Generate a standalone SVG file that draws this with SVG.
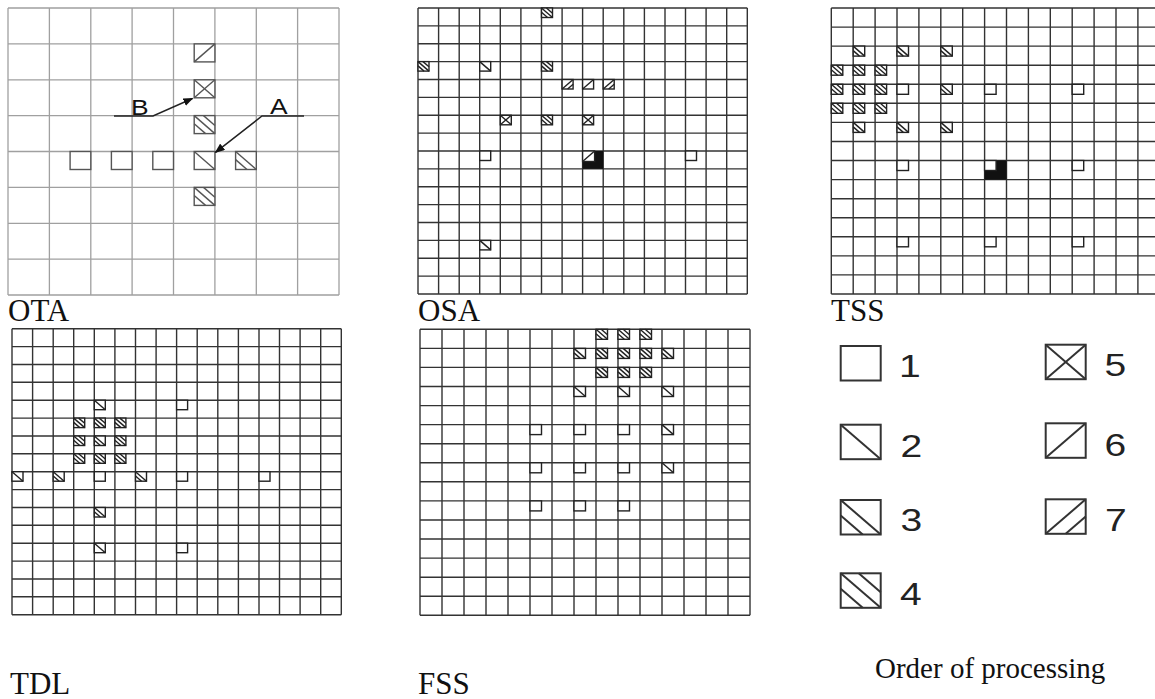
<svg xmlns="http://www.w3.org/2000/svg" width="1155" height="699" viewBox="0 0 1155 699">
<style>
.bg{fill:#fff}
.gl{fill:none;stroke:#333;stroke-width:1.4}
.gl2{fill:none;stroke:#a0a0a0;stroke-width:1.3}
.bx{fill:#fff}
.sm{stroke:#222;stroke-width:1.4;fill:none}
.ot{stroke:#555;stroke-width:1.4;fill:none}
.lg{stroke:#333;stroke-width:2;fill:none}
.lbl{font-family:"Liberation Serif","Times New Roman",serif;font-size:31px;fill:#111}
.num{font-family:"Liberation Sans",Arial,sans-serif;font-size:32px;fill:#222}
.let{font-family:"Liberation Sans",Arial,sans-serif;font-size:22px;fill:#111}
.con{fill:none;stroke:#222;stroke-width:1.5}
.blk{fill:#111}
</style>
<defs>
<symbol id="t1" overflow="visible"><rect width="100%" height="100%" class="bx"/></symbol>
<symbol id="t2" overflow="visible"><rect width="100%" height="100%" class="bx"/><line x1="0" y1="0" x2="100%" y2="100%"/></symbol>
<symbol id="t3" overflow="visible"><rect width="100%" height="100%" class="bx"/><line x1="0" y1="0" x2="100%" y2="100%"/><line x1="0" y1="45%" x2="55%" y2="100%"/></symbol>
<symbol id="t4" overflow="visible"><rect width="100%" height="100%" class="bx"/><line x1="0" y1="0" x2="100%" y2="100%"/><line x1="0" y1="45%" x2="55%" y2="100%"/><line x1="45%" y1="0" x2="100%" y2="55%"/></symbol>
<symbol id="t5" overflow="visible"><rect width="100%" height="100%" class="bx"/><line x1="0" y1="0" x2="100%" y2="100%"/><line x1="0" y1="100%" x2="100%" y2="0"/></symbol>
<symbol id="t6" overflow="visible"><rect width="100%" height="100%" class="bx"/><line x1="0" y1="100%" x2="100%" y2="0"/></symbol>
<symbol id="t7" overflow="visible"><rect width="100%" height="100%" class="bx"/><line x1="0" y1="100%" x2="100%" y2="0"/><line x1="50%" y1="100%" x2="100%" y2="50%"/></symbol>
<marker id="arr" markerWidth="10" markerHeight="8" refX="9" refY="4" orient="auto" markerUnits="userSpaceOnUse"><path d="M0,0 L10,4 L0,8 z" fill="#111"/></marker>
</defs>
<rect class="bg" width="1155" height="699"/>

<g id="ota">
<path class="gl2" d="M8,8V295M49.4,8V295M90.8,8V295M132.1,8V295M173.5,8V295M214.9,8V295M256.3,8V295M297.6,8V295M339,8V295M8,8H339M8,43.9H339M8,79.8H339M8,115.6H339M8,151.5H339M8,187.4H339M8,223.3H339M8,259.1H339M8,295H339"/>
<g class="ot">
<use href="#t6" x="194.2" y="43.9" width="20.7" height="18"/>
<use href="#t5" x="194.2" y="79.8" width="20.7" height="18"/>
<use href="#t4" x="194.2" y="115.6" width="20.7" height="18"/>
<use href="#t1" x="70.1" y="151.5" width="20.7" height="18"/>
<use href="#t1" x="111.4" y="151.5" width="20.7" height="18"/>
<use href="#t1" x="152.8" y="151.5" width="20.7" height="18"/>
<use href="#t2" x="194.2" y="151.5" width="20.7" height="18"/>
<use href="#t3" x="235.6" y="151.5" width="20.7" height="18"/>
<use href="#t4" x="194.2" y="187.4" width="20.7" height="18"/>
</g>
<text class="let" transform="translate(131,115) scale(1.2,1)">B</text>
<text class="let" transform="translate(270,113.5) scale(1.2,1)">A</text>
<text class="lbl" x="8" y="321">OTA</text>
</g>

<g id="osa">
<path class="gl" d="M418,8V294M438.6,8V294M459.2,8V294M479.7,8V294M500.3,8V294M520.9,8V294M541.5,8V294M562.1,8V294M582.6,8V294M603.2,8V294M623.8,8V294M644.4,8V294M665,8V294M685.5,8V294M706.1,8V294M726.7,8V294M747.3,8V294M418,8H747.3M418,25.9H747.3M418,43.8H747.3M418,61.6H747.3M418,79.5H747.3M418,97.4H747.3M418,115.3H747.3M418,133.1H747.3M418,151H747.3M418,168.9H747.3M418,186.8H747.3M418,204.6H747.3M418,222.5H747.3M418,240.4H747.3M418,258.3H747.3M418,276.1H747.3M418,294H747.3"/>
<rect class="blk" x="582.6" y="151" width="20.6" height="17.9"/>
<g class="sm">
<use href="#t4" x="541.5" y="8" width="11" height="9.5"/>
<use href="#t4" x="418" y="61.6" width="11" height="9.5"/>
<use href="#t2" x="479.7" y="61.6" width="11" height="9.5"/>
<use href="#t4" x="541.5" y="61.6" width="11" height="9.5"/>
<use href="#t7" x="562.1" y="79.5" width="11" height="9.5"/>
<use href="#t6" x="582.6" y="79.5" width="11" height="9.5"/>
<use href="#t7" x="603.2" y="79.5" width="11" height="9.5"/>
<use href="#t5" x="500.3" y="115.3" width="11" height="9.5"/>
<use href="#t4" x="541.5" y="115.3" width="11" height="9.5"/>
<use href="#t5" x="582.6" y="115.3" width="11" height="9.5"/>
<use href="#t1" x="479.7" y="151" width="11" height="9.5"/>
<use href="#t1" x="685.5" y="151" width="11" height="9.5"/>
<use href="#t6" x="582.6" y="151" width="12" height="10.5"/>
<use href="#t2" x="479.7" y="240.4" width="11" height="9.5"/>
</g>
<text class="lbl" x="418" y="321">OSA</text>
</g>

<g id="tss">
<path class="gl" d="M831.3,8V294M853.2,8V294M875.1,8V294M897,8V294M918.9,8V294M940.8,8V294M962.7,8V294M984.6,8V294M1006.5,8V294M1028.4,8V294M1050.3,8V294M1072.2,8V294M1094.1,8V294M1116,8V294M1137.9,8V294M831.3,8H1160M831.3,27.1H1160M831.3,46.1H1160M831.3,65.2H1160M831.3,84.3H1160M831.3,103.3H1160M831.3,122.4H1160M831.3,141.5H1160M831.3,160.5H1160M831.3,179.6H1160M831.3,198.7H1160M831.3,217.7H1160M831.3,236.8H1160M831.3,255.9H1160M831.3,274.9H1160M831.3,294H1160"/>
<rect class="blk" x="984.6" y="160.5" width="21.9" height="19.1"/>
<g class="sm">
<use href="#t3" x="853.2" y="46.1" width="11.5" height="10"/>
<use href="#t3" x="897" y="46.1" width="11.5" height="10"/>
<use href="#t3" x="940.8" y="46.1" width="11.5" height="10"/>
<use href="#t4" x="831.3" y="65.2" width="11.5" height="10"/>
<use href="#t4" x="853.2" y="65.2" width="11.5" height="10"/>
<use href="#t4" x="875.1" y="65.2" width="11.5" height="10"/>
<use href="#t4" x="831.3" y="84.3" width="11.5" height="10"/>
<use href="#t4" x="853.2" y="84.3" width="11.5" height="10"/>
<use href="#t4" x="875.1" y="84.3" width="11.5" height="10"/>
<use href="#t1" x="897" y="84.3" width="11.5" height="10"/>
<use href="#t3" x="940.8" y="84.3" width="11.5" height="10"/>
<use href="#t1" x="984.6" y="84.3" width="11.5" height="10"/>
<use href="#t1" x="1072.2" y="84.3" width="11.5" height="10"/>
<use href="#t4" x="831.3" y="103.3" width="11.5" height="10"/>
<use href="#t4" x="853.2" y="103.3" width="11.5" height="10"/>
<use href="#t4" x="875.1" y="103.3" width="11.5" height="10"/>
<use href="#t3" x="853.2" y="122.4" width="11.5" height="10"/>
<use href="#t3" x="897" y="122.4" width="11.5" height="10"/>
<use href="#t3" x="940.8" y="122.4" width="11.5" height="10"/>
<use href="#t1" x="897" y="160.5" width="11.5" height="10"/>
<use href="#t1" x="984.6" y="160.5" width="11.5" height="10"/>
<use href="#t1" x="1072.2" y="160.5" width="11.5" height="10"/>
<use href="#t1" x="897" y="236.8" width="11.5" height="10"/>
<use href="#t1" x="984.6" y="236.8" width="11.5" height="10"/>
<use href="#t1" x="1072.2" y="236.8" width="11.5" height="10"/>
</g>
<text class="lbl" x="831" y="321">TSS</text>
</g>

<g id="tdl">
<path class="gl" d="M12,328.7V614.7M32.6,328.7V614.7M53.2,328.7V614.7M73.7,328.7V614.7M94.3,328.7V614.7M114.9,328.7V614.7M135.5,328.7V614.7M156.1,328.7V614.7M176.6,328.7V614.7M197.2,328.7V614.7M217.8,328.7V614.7M238.4,328.7V614.7M259,328.7V614.7M279.5,328.7V614.7M300.1,328.7V614.7M320.7,328.7V614.7M341.3,328.7V614.7M12,328.7H341.3M12,346.6H341.3M12,364.5H341.3M12,382.3H341.3M12,400.2H341.3M12,418.1H341.3M12,436H341.3M12,453.8H341.3M12,471.7H341.3M12,489.6H341.3M12,507.5H341.3M12,525.3H341.3M12,543.2H341.3M12,561.1H341.3M12,579H341.3M12,596.8H341.3M12,614.7H341.3"/>
<g class="sm">
<use href="#t2" x="94.3" y="400.2" width="11" height="9.5"/>
<use href="#t1" x="176.6" y="400.2" width="11" height="9.5"/>
<use href="#t4" x="73.7" y="418.1" width="11" height="9.5"/>
<use href="#t4" x="94.3" y="418.1" width="11" height="9.5"/>
<use href="#t4" x="114.9" y="418.1" width="11" height="9.5"/>
<use href="#t4" x="73.7" y="436" width="11" height="9.5"/>
<use href="#t3" x="94.3" y="436" width="11" height="9.5"/>
<use href="#t4" x="114.9" y="436" width="11" height="9.5"/>
<use href="#t4" x="73.7" y="453.8" width="11" height="9.5"/>
<use href="#t4" x="94.3" y="453.8" width="11" height="9.5"/>
<use href="#t4" x="114.9" y="453.8" width="11" height="9.5"/>
<use href="#t2" x="12" y="471.7" width="11" height="9.5"/>
<use href="#t3" x="53.2" y="471.7" width="11" height="9.5"/>
<use href="#t1" x="94.3" y="471.7" width="11" height="9.5"/>
<use href="#t3" x="135.5" y="471.7" width="11" height="9.5"/>
<use href="#t1" x="176.6" y="471.7" width="11" height="9.5"/>
<use href="#t1" x="259" y="471.7" width="11" height="9.5"/>
<use href="#t3" x="94.3" y="507.5" width="11" height="9.5"/>
<use href="#t2" x="94.3" y="543.2" width="11" height="9.5"/>
<use href="#t1" x="176.6" y="543.2" width="11" height="9.5"/>
</g>
<text class="lbl" x="10" y="694">TDL</text>
</g>

<g id="fss">
<path class="gl" d="M420,329.3V615.3M442,329.3V615.3M464,329.3V615.3M486,329.3V615.3M508,329.3V615.3M530,329.3V615.3M552,329.3V615.3M574,329.3V615.3M596,329.3V615.3M618,329.3V615.3M640,329.3V615.3M662,329.3V615.3M684,329.3V615.3M706,329.3V615.3M728,329.3V615.3M750,329.3V615.3M420,329.3H750M420,348.4H750M420,367.4H750M420,386.5H750M420,405.6H750M420,424.6H750M420,443.7H750M420,462.8H750M420,481.8H750M420,500.9H750M420,520H750M420,539H750M420,558.1H750M420,577.2H750M420,596.2H750M420,615.3H750"/>
<g class="sm">
<use href="#t4" x="596" y="329.3" width="11.5" height="10"/>
<use href="#t4" x="618" y="329.3" width="11.5" height="10"/>
<use href="#t4" x="640" y="329.3" width="11.5" height="10"/>
<use href="#t3" x="574" y="348.4" width="11.5" height="10"/>
<use href="#t4" x="596" y="348.4" width="11.5" height="10"/>
<use href="#t4" x="618" y="348.4" width="11.5" height="10"/>
<use href="#t4" x="640" y="348.4" width="11.5" height="10"/>
<use href="#t3" x="662" y="348.4" width="11.5" height="10"/>
<use href="#t4" x="596" y="367.4" width="11.5" height="10"/>
<use href="#t4" x="618" y="367.4" width="11.5" height="10"/>
<use href="#t4" x="640" y="367.4" width="11.5" height="10"/>
<use href="#t2" x="574" y="386.5" width="11.5" height="10"/>
<use href="#t2" x="618" y="386.5" width="11.5" height="10"/>
<use href="#t2" x="662" y="386.5" width="11.5" height="10"/>
<use href="#t1" x="530" y="424.6" width="11.5" height="10"/>
<use href="#t1" x="574" y="424.6" width="11.5" height="10"/>
<use href="#t1" x="618" y="424.6" width="11.5" height="10"/>
<use href="#t2" x="662" y="424.6" width="11.5" height="10"/>
<use href="#t1" x="530" y="462.8" width="11.5" height="10"/>
<use href="#t1" x="574" y="462.8" width="11.5" height="10"/>
<use href="#t1" x="618" y="462.8" width="11.5" height="10"/>
<use href="#t2" x="662" y="462.8" width="11.5" height="10"/>
<use href="#t1" x="530" y="500.9" width="11.5" height="10"/>
<use href="#t1" x="574" y="500.9" width="11.5" height="10"/>
<use href="#t1" x="618" y="500.9" width="11.5" height="10"/>
</g>
<text class="lbl" x="418" y="694">FSS</text>
</g>

<g id="legend">
<g class="lg">
<use href="#t1" x="840.7" y="346" width="40" height="34.5"/>
<use href="#t2" x="840.7" y="424.7" width="40" height="34.5"/>
<use href="#t3" x="840.7" y="500" width="40" height="34.5"/>
<use href="#t4" x="840.7" y="573.3" width="40" height="34.5"/>
<use href="#t5" x="1045.7" y="344.7" width="40" height="34.5"/>
<use href="#t6" x="1045.7" y="423.3" width="40" height="34.5"/>
<use href="#t7" x="1045.7" y="499.3" width="40" height="34.5"/>
</g>
<text class="num" transform="translate(899,377) scale(1.22,1)">1</text>
<text class="num" transform="translate(900.5,456.5) scale(1.22,1)">2</text>
<text class="num" transform="translate(900.5,531) scale(1.22,1)">3</text>
<text class="num" transform="translate(900,605) scale(1.22,1)">4</text>
<text class="num" transform="translate(1104.5,376) scale(1.22,1)">5</text>
<text class="num" transform="translate(1104.5,456) scale(1.22,1)">6</text>
<text class="num" transform="translate(1105,531) scale(1.22,1)">7</text>
<text class="lbl" x="875" y="678" style="font-size:29px">Order of processing</text>
</g>

<g id="connectors">
<polyline class="con" points="114,116 153,116 192.5,98.5" marker-end="url(#arr)"/>
<polyline class="con" points="304,116 262,116 215.5,152.3" marker-end="url(#arr)"/>
</g>
</svg>
